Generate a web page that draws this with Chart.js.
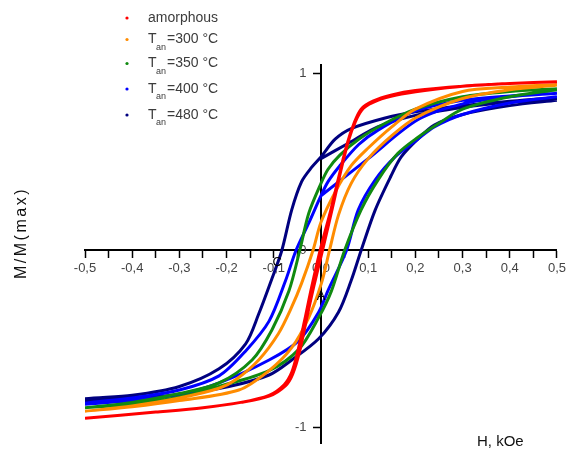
<!DOCTYPE html>
<html><head><meta charset="utf-8">
<script src="https://cdn.jsdelivr.net/npm/chart.js@4.4.1/dist/chart.umd.min.js"></script>
<style>html,body{margin:0;padding:0;background:#fff;}#wrap{width:569px;height:460px;position:relative;}</style>
</head><body><div id="wrap"><canvas id="c" width="569" height="460"></canvas></div>
<script>
// ---- data: [H (kOe), M/M(max)] pairs ----
const seriesNames = ['amorphous', 'Tan=300 °C', 'Tan=350 °C', 'Tan=400 °C', 'Tan=480 °C'];
const annealTemps = ['', '300', '350', '400', '480'];
const seriesColors = ['#ff0000', '#ff8c00', '#108a10', '#0000ff', '#00007f'];

const amorphousUpper = [[0.5,0.955],[0.4,0.945],[0.3,0.93],[0.2,0.905],[0.15,0.88],[0.11,0.845],[0.085,0.80],[0.07,0.72],[0.055,0.60],[0.038,0.42],[0.02,0.22],[0.0,0.02],[-0.02,-0.21],[-0.035,-0.40],[-0.05,-0.58],[-0.062,-0.69],[-0.078,-0.76],[-0.11,-0.82],[-0.17,-0.86],[-0.25,-0.89],[-0.35,-0.915],[-0.5,-0.95]];
const amorphousLower = [[-0.5,-0.95],[-0.35,-0.915],[-0.25,-0.89],[-0.17,-0.86],[-0.11,-0.825],[-0.075,-0.765],[-0.06,-0.70],[-0.045,-0.57],[-0.03,-0.38],[-0.015,-0.20],[0.005,0.02],[0.025,0.25],[0.042,0.45],[0.058,0.62],[0.073,0.73],[0.09,0.805],[0.12,0.85],[0.16,0.88],[0.22,0.905],[0.3,0.93],[0.4,0.945],[0.5,0.955]];

const t300Upper = [[0.5,0.94],[0.4,0.925],[0.3,0.90],[0.2,0.80],[0.15,0.70],[0.1,0.58],[0.064,0.48],[0.03,0.33],[0.0,0.16],[-0.017,0.0],[-0.041,-0.185],[-0.062,-0.32],[-0.09,-0.47],[-0.132,-0.62],[-0.18,-0.73],[-0.216,-0.78],[-0.3,-0.835],[-0.4,-0.88],[-0.5,-0.91]];
const t300Lower = [[-0.5,-0.91],[-0.4,-0.885],[-0.3,-0.85],[-0.174,-0.79],[-0.11,-0.68],[-0.062,-0.55],[-0.026,-0.38],[0.001,-0.185],[0.018,0.0],[0.037,0.20],[0.064,0.38],[0.1,0.52],[0.15,0.65],[0.2,0.75],[0.3,0.86],[0.4,0.91],[0.5,0.935]];

const t350Upper = [[0.5,0.915],[0.4,0.90],[0.3,0.87],[0.2,0.80],[0.136,0.72],[0.08,0.63],[0.04,0.54],[0.015,0.46],[0.0,0.38],[-0.026,0.21],[-0.045,0.0],[-0.068,-0.23],[-0.104,-0.45],[-0.146,-0.62],[-0.216,-0.75],[-0.3,-0.81],[-0.4,-0.86],[-0.5,-0.89]];
const t350Lower = [[-0.5,-0.89],[-0.4,-0.87],[-0.3,-0.83],[-0.216,-0.77],[-0.11,-0.68],[-0.047,-0.56],[-0.005,-0.38],[0.022,-0.23],[0.05,0.0],[0.085,0.23],[0.121,0.40],[0.163,0.55],[0.205,0.64],[0.25,0.72],[0.3,0.80],[0.4,0.87],[0.5,0.91]];

const t400Initial = [[0.0,0.31],[0.1,0.52],[0.205,0.74],[0.3,0.83],[0.4,0.87],[0.5,0.89]];
const t400Upper = [[0.5,0.89],[0.4,0.875],[0.3,0.85],[0.2,0.79],[0.12,0.68],[0.08,0.60],[0.04,0.48],[0.015,0.39],[0.0,0.31],[-0.025,0.16],[-0.053,0.0],[-0.075,-0.17],[-0.11,-0.40],[-0.16,-0.57],[-0.216,-0.71],[-0.3,-0.79],[-0.4,-0.835],[-0.5,-0.865]];
const t400Lower = [[-0.5,-0.87],[-0.4,-0.85],[-0.3,-0.815],[-0.216,-0.75],[-0.11,-0.62],[-0.047,-0.51],[-0.005,-0.35],[0.016,-0.22],[0.054,0.0],[0.079,0.23],[0.115,0.40],[0.157,0.53],[0.205,0.63],[0.24,0.70],[0.3,0.77],[0.4,0.835],[0.5,0.87]];

const t480Initial = [[0.0,0.52],[0.06,0.61],[0.12,0.70],[0.2,0.765],[0.3,0.81],[0.4,0.84],[0.5,0.86]];
const t480Upper = [[0.5,0.865],[0.4,0.845],[0.3,0.82],[0.2,0.785],[0.136,0.75],[0.064,0.69],[0.03,0.63],[0.0,0.53],[-0.02,0.47],[-0.041,0.39],[-0.062,0.23],[-0.083,0.0],[-0.104,-0.16],[-0.132,-0.36],[-0.16,-0.53],[-0.216,-0.67],[-0.3,-0.77],[-0.4,-0.82],[-0.5,-0.84]];
const t480Lower = [[-0.5,-0.85],[-0.4,-0.835],[-0.3,-0.815],[-0.195,-0.77],[-0.11,-0.705],[-0.062,-0.62],[-0.005,-0.50],[0.037,-0.35],[0.064,-0.17],[0.085,0.0],[0.115,0.23],[0.148,0.42],[0.17,0.53],[0.205,0.63],[0.24,0.71],[0.3,0.77],[0.4,0.82],[0.5,0.85]];

const xTickValues = [-0.5,-0.4,-0.3,-0.2,-0.1,0,0.1,0.2,0.3,0.4,0.5];
const yTickValues = [-1,0,1];

// ---- build datasets: each loop drawn as one continuous path ----
const loops = [
  [amorphousUpper, amorphousLower],
  [t300Upper, t300Lower],
  [t350Upper, t350Lower],
  [t400Initial, t400Upper, t400Lower],
  [t480Initial, t480Upper, t480Lower]
];
const toPts = arr => arr.map(p => ({x: p[0], y: p[1]}));
const datasets = loops.map((parts, i) => ({
  label: seriesNames[i],
  data: parts.reduce((acc, part) => acc.concat(toPts(part)), []),
  showLine: true,
  borderColor: seriesColors[i],
  backgroundColor: seriesColors[i],
  borderWidth: 3,
  pointRadius: 0,
  tension: 0.3,
  fill: false
}));

const fmtX = v => (Math.round(v * 10) / 10).toFixed(1).replace('.', ',');

const overlay = {
  id: 'overlay',
  afterDraw(chart) {
    const ctx = chart.ctx;
    const xs = chart.scales.x, ys = chart.scales.y;
    ctx.save();
    // legend
    const legendY = [18, 39.5, 63.5, 89, 115];
    chart.data.datasets.forEach((ds, i) => {
      const y = legendY[i];
      ctx.fillStyle = ds.borderColor;
      ctx.beginPath(); ctx.arc(127, y, 1.6, 0, Math.PI * 2); ctx.fill();
      ctx.fillStyle = '#3c3c3c';
      ctx.textBaseline = 'middle';
      ctx.textAlign = 'left';
      ctx.font = '14px "Liberation Sans", Arial, sans-serif';
      if (i === 0) {
        ctx.fillText(ds.label, 148, y);
      } else {
        ctx.fillText('T', 148, y);
        ctx.font = '9px "Liberation Sans", Arial, sans-serif';
        ctx.fillText('an', 156, y + 8);
        ctx.font = '14px "Liberation Sans", Arial, sans-serif';
        ctx.fillText('=' + annealTemps[i] + ' °C', 167, y);
      }
    });
    // axis titles
    ctx.fillStyle = '#111';
    ctx.font = '15px "Liberation Sans", Arial, sans-serif';
    ctx.textAlign = 'left';
    ctx.textBaseline = 'middle';
    ctx.fillText('H, kOe', 477, 442);
    ctx.save();
    ctx.translate(22, 233);
    ctx.rotate(-Math.PI / 2);
    ctx.textAlign = 'center';
    ctx.font = '16px "Liberation Sans", Arial, sans-serif';
    try { ctx.letterSpacing = '2.5px'; } catch (e) {}
    ctx.fillText('M/M(max)', 0, 0);
    ctx.restore();
    // point labels
    ctx.fillStyle = '#000';
    ctx.font = '13px "Liberation Sans", Arial, sans-serif';
    ctx.textAlign = 'center';
    ctx.textBaseline = 'middle';
    ctx.fillText('C', xs.getPixelForValue(-0.093), ys.getPixelForValue(-0.07));
    ctx.fillText('A', xs.getPixelForValue(0.0), ys.getPixelForValue(-0.26));
    ctx.restore();
  }
};

new Chart(document.getElementById('c'), {
  type: 'scatter',
  data: { datasets },
  options: {
    responsive: false,
    animation: false,
    events: [],
    layout: { padding: { left: 85, right: 9, top: 65, bottom: 17 } },
    plugins: { legend: { display: false }, tooltip: { enabled: false } },
    scales: {
      x: {
        type: 'linear', min: -0.5, max: 0.5,
        position: { y: 0 },
        afterBuildTicks: s => {
          const t = [];
          xTickValues.forEach((v, i) => { t.push({value: v}); if (i < xTickValues.length - 1) t.push({value: (v + xTickValues[i + 1]) / 2, minor: true}); });
          s.ticks = t;
        },
        grid: { drawOnChartArea: false, drawTicks: true, tickLength: 7, tickWidth: 1.5, color: '#000' },
        border: { color: '#000', width: 2 },
        ticks: {
          autoSkip: false, maxRotation: 0, padding: 3, color: '#444',
          font: { family: '"Liberation Sans", Arial, sans-serif', size: 13 },
          callback: function(v) { return xTickValues.some(t => Math.abs(t - v) < 1e-6) ? fmtX(v) : ''; }
        }
      },
      y: {
        type: 'linear', min: -1.09, max: 1.05,
        position: { x: 0 },
        afterBuildTicks: s => { s.ticks = yTickValues.map(v => ({value: v})); },
        grid: { drawOnChartArea: false, drawTicks: true, tickLength: 7, tickWidth: 1.5, color: '#000' },
        border: { color: '#000', width: 2 },
        ticks: {
          padding: 6, color: '#444',
          font: { family: '"Liberation Sans", Arial, sans-serif', size: 13 },
          // Chart.js places labels of an axis pinned at x=0 flush against the axis; trailing spaces keep them clear of the tick marks
          callback: v => String(v) + '    '
        }
      }
    }
  },
  plugins: [overlay]
});
</script>
</body></html>
